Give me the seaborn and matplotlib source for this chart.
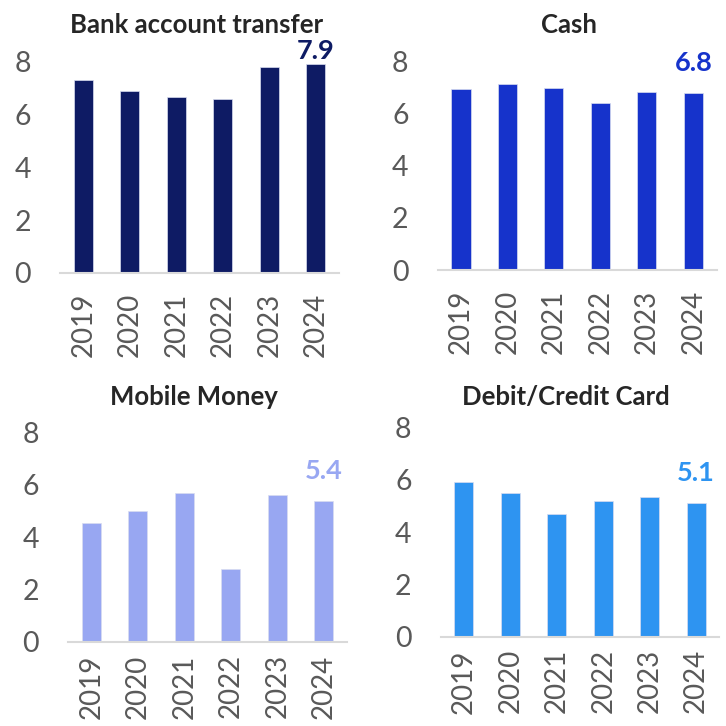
import matplotlib
matplotlib.use("Agg")
import matplotlib.pyplot as plt
import seaborn as sns
import pandas as pd

# ---------------------------------------------------------------
# Data
# ---------------------------------------------------------------
years = ["2019", "2020", "2021", "2022", "2023", "2024"]
bank_transfer = [7.3, 6.9, 6.65, 6.6, 7.8, 7.9]
cash = [6.95, 7.15, 7.0, 6.4, 6.85, 6.8]
mobile_money = [4.55, 5.0, 5.7, 2.8, 5.6, 5.4]
card = [5.9, 5.5, 4.7, 5.2, 5.35, 5.1]

titles = ["Bank account transfer", "Cash", "Mobile Money", "Debit/Credit Card"]
series = [bank_transfer, cash, mobile_money, card]
colors = ["#0E1B64", "#1633CB", "#98A7F2", "#2E94F1"]

sns.set_style("white")
plt.rcParams["font.family"] = ["Lato", "DejaVu Sans"]

fig = plt.figure(figsize=(7.26, 7.26), dpi=100)

# axes boxes in figure fractions: left, bottom, width, height
boxes = [
    [0.083, 0.624, 0.384, 0.291],
    [0.603, 0.628, 0.384, 0.287],
    [0.094, 0.116, 0.384, 0.288],
    [0.607, 0.123, 0.384, 0.288],
]
title_pads = [21, 21, 20, 16]
title_x = [0.49, 0.47, 0.45, 0.45]
xtick_pads = [14, 14, 9, 9]

for title, vals, col, box, tpad, tx, xpad in zip(titles, series, colors, boxes,
                                                 title_pads, title_x, xtick_pads):
    ax = fig.add_axes(box)
    df = pd.DataFrame({"year": years, "value": vals})
    sns.barplot(data=df, x="year", y="value", color=col, width=0.41,
                saturation=1, edgecolor="#d9ddf0", linewidth=0.5, ax=ax)
    ax.set_ylim(0, 8)
    ax.set_xlim(-0.5, len(years) - 0.5)
    ax.set_yticks([0, 2, 4, 6, 8])
    ax.set_xlabel("")
    ax.set_ylabel("")
    for side in ["top", "right", "left"]:
        ax.spines[side].set_visible(False)
    ax.spines["bottom"].set_color("#D9D9D9")
    ax.spines["bottom"].set_linewidth(1.5)
    ax.tick_params(axis="y", length=0, pad=21, labelsize=20.5, labelcolor="#595959")
    ax.tick_params(axis="x", length=0, pad=xpad, labelsize=20, labelcolor="#595959",
                   labelrotation=90)
    ax.set_title(title, fontsize=18.5, fontweight="bold", pad=tpad, x=tx)

    # latest value label above the last bar
    last = vals[-1]
    ax.text(len(years) - 1, min(last + 1.15, 8.4), f"{last:.1f}",
            ha="center", va="center", color=col, fontsize=19.5,
            fontweight="bold", clip_on=False)

fig.savefig("out.png", dpi=100)
